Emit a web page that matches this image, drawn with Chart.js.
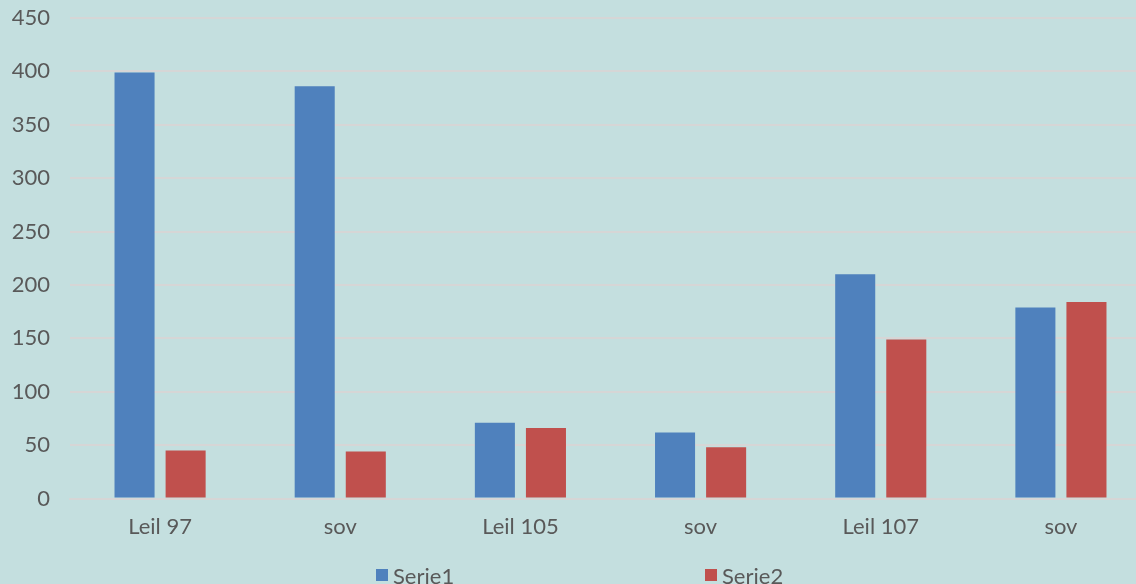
<!DOCTYPE html>
<html>
<head>
<meta charset="utf-8">
<script src="https://cdn.jsdelivr.net/npm/chart.js@4.4.1/dist/chart.umd.min.js"></script>
<style>
    html, body { margin: 0; padding: 0; background: #c4dfdf; overflow: hidden; }
    /* plot area runs slightly past the right edge, as in the original crop */
    #wrap { width: 1151px; height: 584px; position: relative; }
</style>
</head>
<body>
<div id="wrap"><canvas id="chart"></canvas></div>
<script>
// Chart data
const categories = ['Leil 97', 'sov', 'Leil 105', 'sov', 'Leil 107', 'sov'];
const serie1 = [399, 386, 71, 62, 210, 179];
const serie2 = [45, 44, 66, 48, 149, 184];
const seriesNames = ['Serie1', 'Serie2'];
const yMin = 0;
const yMax = 450;
const yStep = 50;

const textColor = '#595959';
const gridColor = '#d6d6d6';
const fontFamily = 'Lato, "Open Sans", sans-serif';

// Legend drawn by hand so the two items sit far apart like the original
const bottomLegend = {
    id: 'bottomLegend',
    afterDraw(chart) {
        const ctx = chart.ctx;
        const xs = [376, 705];
        ctx.save();
        ctx.font = '22px ' + fontFamily;
        ctx.textBaseline = 'middle';
        chart.data.datasets.forEach((ds, i) => {
            ctx.fillStyle = ds.backgroundColor;
            ctx.fillRect(xs[i], 569, 12, 12);
            ctx.fillStyle = textColor;
            ctx.fillText(ds.label, xs[i] + 17, 577);
        });
        ctx.restore();
    }
};

const ctx = document.getElementById('chart').getContext('2d');
new Chart(ctx, {
    type: 'bar',
    data: {
        labels: categories,
        datasets: [
            { label: seriesNames[0], data: serie1, backgroundColor: '#4f81bd' },
            { label: seriesNames[1], data: serie2, backgroundColor: '#c0504d' }
        ]
    },
    options: {
        responsive: true,
        maintainAspectRatio: false,
        animation: false,
        categoryPercentage: 0.567,
        barPercentage: 0.784,
        layout: { padding: { top: 18, right: 0, bottom: 29, left: 0 } },
        plugins: {
            legend: { display: false },
            tooltip: { enabled: false }
        },
        scales: {
            x: {
                grid: { display: false, drawTicks: false },
                border: { display: true, color: gridColor, width: 2 },
                ticks: { color: textColor, padding: 15, font: { family: fontFamily, size: 22 } }
            },
            y: {
                min: yMin,
                max: yMax,
                afterFit(scale) {
                    scale.width = 70;
                    scale.paddingTop = 0;
                },
                grid: { color: gridColor, lineWidth: 2, drawTicks: false },
                border: { display: false },
                ticks: { stepSize: yStep, color: textColor, padding: 20, font: { family: fontFamily, size: 22 } }
            }
        }
    },
    plugins: [bottomLegend]
});
</script>
</body>
</html>
